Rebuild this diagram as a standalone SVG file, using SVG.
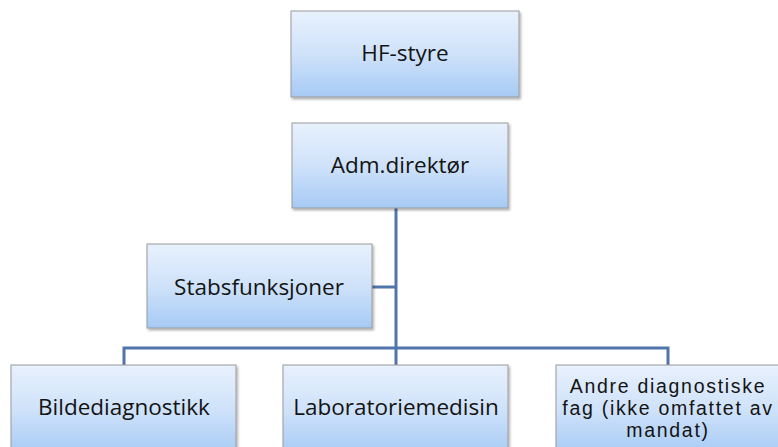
<svg xmlns="http://www.w3.org/2000/svg" width="778" height="447" viewBox="0 0 778 447">
<style>
.box{fill:url(#g);stroke:#9a9a9a;stroke-width:1;filter:url(#sh)}
.lbl{font-family:"Open Sans","Liberation Sans",sans-serif;font-size:22.5px;fill:#141414;text-anchor:middle}
.sm{font-family:"Liberation Sans",Arial,sans-serif;font-size:19.5px;letter-spacing:1.7px}
.con{fill:none;stroke:#5076ab;stroke-width:3}
</style>
<defs>
<linearGradient id="g" x1="0" y1="0" x2="0" y2="1">
<stop offset="0" stop-color="#e8f1fd"/>
<stop offset="0.5" stop-color="#cfe2fa"/>
<stop offset="1" stop-color="#a6caf5"/>
</linearGradient>
<filter id="sh" x="-5%" y="-5%" width="115%" height="120%">
<feDropShadow dx="1.5" dy="2" stdDeviation="1.2" flood-color="#000" flood-opacity="0.3"/>
</filter>
</defs>
<rect width="778" height="447" fill="#fff"/>
<g id="connectors">
<path class="con" d="M396 208 V365"/>
<path class="con" d="M372 287 H396"/>
<path class="con" d="M124 365 V348 H668 V365"/>
</g>
<g id="hf-styre">
<rect class="box" x="291" y="11" width="228" height="86"/>
<text class="lbl" x="405" y="61">HF-styre</text>
</g>
<g id="adm-direktor">
<rect class="box" x="292" y="123" width="216" height="85"/>
<text class="lbl" x="400" y="173">Adm.direktør</text>
</g>
<g id="stabsfunksjoner">
<rect class="box" x="147" y="244" width="225" height="84"/>
<text class="lbl" x="259" y="295">Stabsfunksjoner</text>
</g>
<g id="bildediagnostikk">
<rect class="box" x="11" y="365" width="225" height="90"/>
<text class="lbl" x="124" y="415">Bildediagnostikk</text>
</g>
<g id="laboratoriemedisin">
<rect class="box" x="283" y="365" width="225" height="90"/>
<text class="lbl" x="396" y="415">Laboratoriemedisin</text>
</g>
<g id="andre">
<rect class="box" x="556" y="365" width="230" height="90"/>
<text class="lbl sm"><tspan x="668" y="393">Andre diagnostiske</tspan><tspan x="668" y="415">fag (ikke omfattet av</tspan><tspan x="668" y="437">mandat)</tspan></text>
</g>
</svg>
